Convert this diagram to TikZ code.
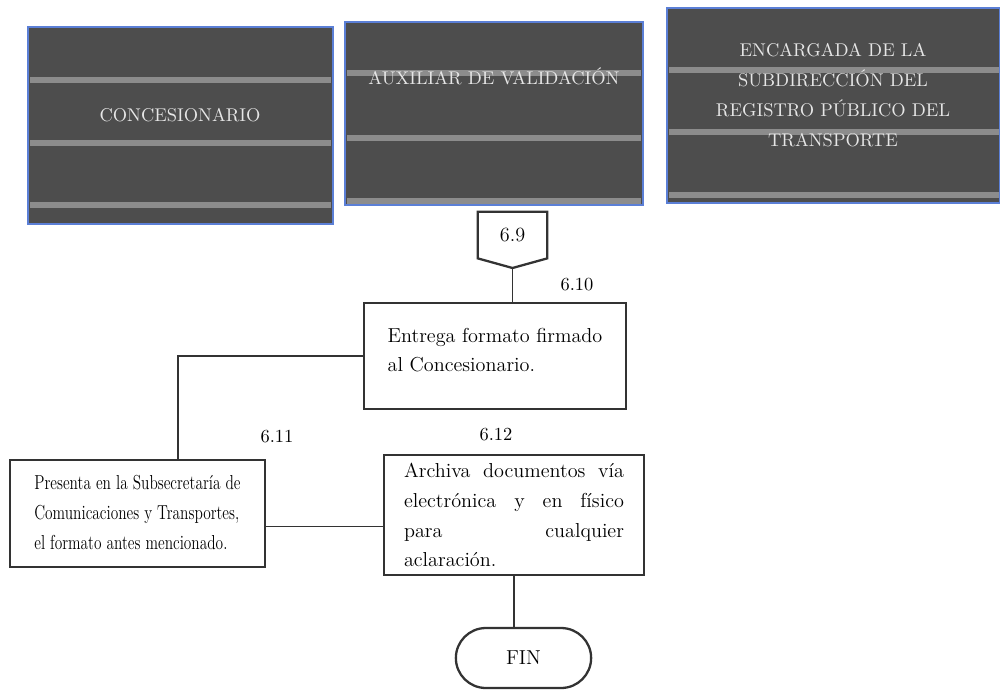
\documentclass[tikz,border=0pt]{standalone}
\usepackage{fontspec}
\usepackage{tikz}
\usetikzlibrary{shapes.misc}
\newfontfamily\angosta{Latin Modern Roman}[FakeStretch=0.76]
\definecolor{fondo}{HTML}{4D4D4D}
\definecolor{franja}{HTML}{8C8C8C}
\definecolor{borde}{HTML}{5B7FD6}
\definecolor{letra}{HTML}{E6E6E6}
\definecolor{linea}{HTML}{333333}
\begin{document}
\begin{tikzpicture}[x=0.02cm, y=-0.02cm,
	encabezado/.style={rectangle, fill=fondo, draw=borde, line width=1.2pt, inner sep=0pt},
	rayita/.style={franja, line width=3pt},
	titulo/.style={text=letra, font=\fontsize{10.5}{17}\selectfont, align=center, inner sep=0pt},
	caja/.style={rectangle, draw=linea, line width=1.3pt, font=\fontsize{11.5}{17}\selectfont, inner xsep=0.4cm},
	paso/.style={font=\fontsize{10.5}{12}\selectfont, inner sep=0pt},
	conector/.style={draw=linea, line width=0.6pt}]
	\useasboundingbox (0,0) rectangle (1000,690);
	\node (conc) at (180.5,125.5) [encabezado, minimum width=6.1cm, minimum height=3.94cm] {};
	\node (aux) at (494,113.5) [encabezado, minimum width=5.96cm, minimum height=3.66cm] {};
	\node (enc) at (833.5,105.5) [encabezado, minimum width=6.66cm, minimum height=3.9cm] {};
	\draw[rayita] (30,80) -- (331,80);
	\draw[rayita] (30,143) -- (331,143);
	\draw[rayita] (30,205) -- (331,205);
	\draw[rayita] (347,73) -- (641,73);
	\draw[rayita] (347,138) -- (641,138);
	\draw[rayita] (347,201) -- (641,201);
	\draw[rayita] (669,70) -- (999,70);
	\draw[rayita] (669,132) -- (999,132);
	\draw[rayita] (669,195) -- (999,195);
	\node (tconc) at (180,115) [titulo] {CONCESIONARIO};
	\node (taux) at (494,76) [titulo] {AUXILIAR DE VALIDACI\'ON};
	\node (tenc) at (833,95) [titulo] {ENCARGADA DE LA\\SUBDIRECCI\'ON DEL\\REGISTRO P\'UBLICO DEL\\TRANSPORTE};
		\node (c69) at (512.5,235) [minimum width=1.38cm, minimum height=0.92cm, font=\fontsize{11.5}{14}\selectfont, inner sep=0pt] {6.9};
		\draw[linea, line width=1.3pt] (c69.north west) -- (c69.north east) -- (c69.south east) -- (512.5,268) -- (c69.south west) -- cycle;
		\coordinate (punta) at (512.5,268);
		\node (a610) at (495,356) [caja, minimum width=5.24cm, minimum height=2.12cm, align=left] {Entrega formato firmado\\al Concesionario.\\[-10pt] \mbox{}};
		\node (n610) at (577,285) [paso] {6.10};
			\node (p611) at (137.5,513.5) [caja, minimum width=5.1cm, minimum height=2.14cm, align=left, inner xsep=0.2cm, font=\angosta\fontsize{11.5}{17}\selectfont] {\mbox{}\\[-10pt]Presenta en la Subsecretar\'ia de\\Comunicaciones y Transportes,\\el formato antes mencionado.};
			\node (n611) at (277,437) [paso] {6.11};
			\node (a612) at (514,515) [caja, minimum width=5.16cm, minimum height=2.4cm, align=justify, text width=4.4cm] {Archiva documentos v\'ia\linebreak electr\'onica y en f\'isico\linebreak para cualquier\linebreak aclaraci\'on.};
			\node (n612) at (496,435) [paso] {6.12};
				\node (fin) at (523.5,658) [rounded rectangle, draw=linea, line width=1.3pt, minimum width=2.94cm, minimum height=1.2cm, font=\fontsize{11.5}{14}\selectfont] {FIN};
	\coordinate (codo) at (178,356);
	\draw[conector] (punta) -- (a610.north -| punta);
	\draw[conector] (a610.west) -- (codo) -- (codo |- p611.north);
	\draw[conector] ([yshift=-0.26cm]p611.east) -- ([yshift=-0.26cm]p611.east -| a612.west);
	\draw[conector] (a612.south) -- (fin.north -| a612.south);
\end{tikzpicture}
\end{document}
